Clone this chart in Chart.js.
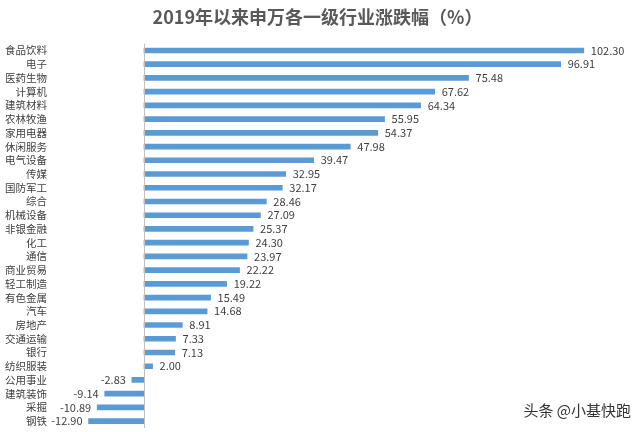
<!DOCTYPE html>
<html>
<head>
<meta charset="utf-8">
<script src="https://cdn.jsdelivr.net/npm/chart.js@4/dist/chart.umd.min.js"></script>
<style>
html,body{margin:0;padding:0;background:#fff;}
#wrap{width:643px;height:432px;position:relative;}
</style>
</head>
<body>
<div id="wrap"><canvas id="c"></canvas></div>
<script>
const categories = ["食品饮料","电子","医药生物","计算机","建筑材料","农林牧渔","家用电器","休闲服务","电气设备","传媒","国防军工","综合","机械设备","非银金融","化工","通信","商业贸易","轻工制造","有色金属","汽车","房地产","交通运输","银行","纺织服装","公用事业","建筑装饰","采掘","钢铁"];
const values = [102.30,96.91,75.48,67.62,64.34,55.95,54.37,47.98,39.47,32.95,32.17,28.46,27.09,25.37,24.30,23.97,22.22,19.22,15.49,14.68,8.91,7.33,7.13,2.00,-2.83,-9.14,-10.89,-12.90];
const titleText = "2019年以来申万各一级行业涨跌幅（%）";
const watermark = "头条 @小基快跑";

const FONT = "'Noto Sans CJK SC', 'Microsoft YaHei', sans-serif";

const extras = {
  id: 'extras',
  afterDatasetsDraw(chart) {
    const ctx = chart.ctx;
    const xs = chart.scales.x;
    const area = chart.chartArea;
    const x0 = Math.round(xs.getPixelForValue(0)) + 0.5;
    ctx.save();
    ctx.strokeStyle = '#BFBFBF';
    ctx.lineWidth = 1;
    ctx.beginPath();
    ctx.moveTo(x0, area.top);
    ctx.lineTo(x0, area.bottom);
    ctx.stroke();
    const meta = chart.getDatasetMeta(0);
    ctx.font = "11px " + FONT;
    ctx.fillStyle = '#404040';
    ctx.textBaseline = 'middle';
    meta.data.forEach((bar, i) => {
      const v = values[i];
      const txt = v.toFixed(2);
      if (v >= 0) {
        ctx.textAlign = 'left';
        ctx.fillText(txt, bar.x + 7, bar.y);
      } else {
        ctx.textAlign = 'right';
        ctx.fillText(txt, bar.x - 6, bar.y);
      }
    });
    ctx.font = "15px " + FONT;
    ctx.textAlign = 'right';
    ctx.textBaseline = 'middle';
    ctx.lineWidth = 3;
    ctx.strokeStyle = 'rgba(255,255,255,0.9)';
    ctx.strokeText(watermark, 631, 410);
    ctx.fillStyle = '#333333';
    ctx.fillText(watermark, 631, 410);
    ctx.restore();
  }
};

new Chart(document.getElementById('c'), {
  type: 'bar',
  data: {
    labels: categories,
    datasets: [{
      data: values,
      backgroundColor: '#5B9BD5',
      barThickness: 5
    }]
  },
  options: {
    indexAxis: 'y',
    responsive: true,
    maintainAspectRatio: false,
    animation: false,
    layout: { padding: { left: 0, right: 8, top: 0, bottom: 4 } },
    plugins: {
      legend: { display: false },
      tooltip: { enabled: false },
      title: {
        display: true,
        text: titleText,
        color: '#595959',
        font: { family: FONT, size: 18, weight: 'bold' },
        padding: { top: 6, bottom: 16 }
      }
    },
    scales: {
      x: {
        min: -21.4,
        max: 114.2,
        display: false,
        grid: { display: false }
      },
      y: {
        grid: { display: false },
        border: { display: false },
        ticks: {
          color: '#404040',
          font: { family: FONT, size: 10.5, lineHeight: 0.8 },
          padding: -3,
          autoSkip: false
        },
        afterFit(scale) { scale.width = 52; }
      }
    }
  },
  plugins: [extras]
});
</script>
</body>
</html>
